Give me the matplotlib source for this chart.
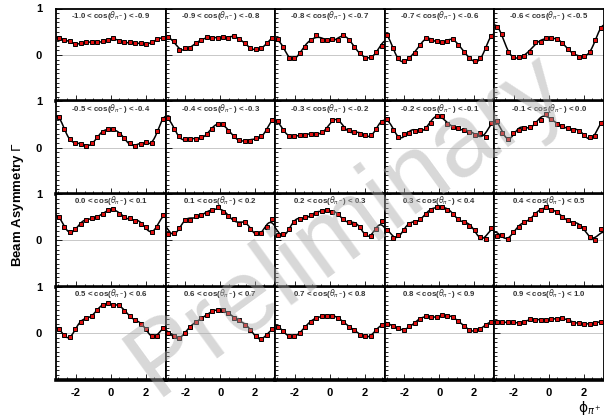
import numpy as np
import matplotlib
matplotlib.use("Agg")
import matplotlib.pyplot as plt
from matplotlib.ticker import MultipleLocator, FixedLocator

plt.rcParams['font.family'] = ['Liberation Sans', 'DejaVu Sans']

# cos(theta) bin edges, one panel per bin
cos_edges = [-1.0, -0.9, -0.8, -0.7, -0.6, -0.5, -0.4, -0.3, -0.2, -0.1,
             0.0, 0.1, 0.2, 0.3, 0.4, 0.5, 0.6, 0.7, 0.8, 0.9, 1.0]

# beam asymmetry per phi bin (20 bins over -pi..pi), one list per cos bin
bin01 = [0.36, 0.33, 0.29, 0.23, 0.25, 0.27, 0.27, 0.27, 0.30, 0.32,
         0.36, 0.30, 0.27, 0.27, 0.25, 0.25, 0.23, 0.27, 0.34, 0.37]
bin02 = [0.38, 0.29, 0.11, 0.14, 0.14, 0.25, 0.32, 0.38, 0.36, 0.37,
         0.38, 0.36, 0.41, 0.34, 0.25, 0.14, 0.12, 0.14, 0.25, 0.36]
bin03 = [0.34, 0.16, -0.06, -0.07, 0.05, 0.18, 0.31, 0.42, 0.32, 0.32,
         0.34, 0.32, 0.43, 0.32, 0.18, 0.03, -0.06, -0.04, 0.07, 0.20]
bin04 = [0.43, 0.14, -0.07, -0.14, -0.07, 0.05, 0.22, 0.36, 0.31, 0.29,
         0.27, 0.29, 0.34, 0.22, 0.07, -0.07, -0.14, -0.07, 0.14, 0.41]
bin05 = [0.61, 0.44, 0.07, -0.04, -0.04, -0.02, 0.07, 0.27, 0.27, 0.36,
         0.36, 0.34, 0.25, 0.12, 0.05, -0.04, -0.02, 0.07, 0.32, 0.57]
bin06 = [0.65, 0.40, 0.19, 0.11, 0.08, 0.04, 0.09, 0.22, 0.33, 0.40,
         0.40, 0.30, 0.20, 0.09, 0.04, 0.08, 0.13, 0.09, 0.35, 0.62]
bin07 = [0.64, 0.40, 0.24, 0.18, 0.18, 0.18, 0.22, 0.30, 0.40, 0.51,
         0.51, 0.35, 0.24, 0.17, 0.15, 0.15, 0.20, 0.25, 0.37, 0.60]
bin08 = [0.57, 0.38, 0.25, 0.25, 0.27, 0.28, 0.29, 0.30, 0.33, 0.40,
         0.60, 0.60, 0.43, 0.37, 0.33, 0.30, 0.27, 0.27, 0.40, 0.56]
bin09 = [0.61, 0.39, 0.22, 0.29, 0.32, 0.36, 0.39, 0.43, 0.54, 0.68,
         0.68, 0.50, 0.45, 0.42, 0.38, 0.34, 0.27, 0.32, 0.23, 0.54]
bin10 = [0.57, 0.32, 0.18, 0.32, 0.38, 0.43, 0.45, 0.54, 0.59, 0.72,
         0.61, 0.50, 0.47, 0.43, 0.39, 0.36, 0.27, 0.22, 0.25, 0.54]
bin11 = [0.50, 0.29, 0.18, 0.25, 0.36, 0.43, 0.49, 0.50, 0.56, 0.65,
         0.68, 0.57, 0.50, 0.49, 0.42, 0.36, 0.29, 0.18, 0.29, 0.54]
bin12 = [0.14, 0.16, 0.27, 0.43, 0.44, 0.52, 0.54, 0.59, 0.65, 0.72,
         0.61, 0.52, 0.47, 0.36, 0.39, 0.25, 0.16, 0.16, 0.29, 0.47]
bin13 = [0.11, 0.14, 0.25, 0.39, 0.47, 0.50, 0.54, 0.59, 0.63, 0.65,
         0.61, 0.56, 0.47, 0.39, 0.36, 0.29, 0.14, 0.09, 0.25, 0.41]
bin14 = [0.23, 0.06, 0.11, 0.22, 0.36, 0.39, 0.47, 0.57, 0.65, 0.72,
         0.72, 0.66, 0.57, 0.47, 0.39, 0.32, 0.22, 0.07, 0.04, 0.27]
bin15 = [0.09, 0.11, 0.04, 0.18, 0.29, 0.39, 0.47, 0.56, 0.65, 0.72,
         0.65, 0.61, 0.50, 0.45, 0.38, 0.32, 0.27, 0.07, 0.01, 0.25]
bin16 = [0.08, -0.05, -0.09, 0.09, 0.23, 0.33, 0.37, 0.50, 0.60, 0.64,
         0.61, 0.60, 0.48, 0.37, 0.29, 0.19, 0.08, -0.06, -0.06, 0.12]
bin17 = [0.00, -0.07, -0.11, 0.00, 0.14, 0.23, 0.32, 0.39, 0.47, 0.50,
         0.49, 0.44, 0.32, 0.29, 0.18, 0.07, -0.06, -0.13, -0.04, 0.09]
bin18 = [0.14, 0.04, -0.06, -0.07, 0.00, 0.14, 0.25, 0.32, 0.36, 0.37,
         0.38, 0.32, 0.25, 0.14, 0.07, -0.04, -0.06, -0.06, 0.07, 0.18]
bin19 = [0.20, 0.16, 0.10, 0.06, 0.15, 0.22, 0.30, 0.37, 0.34, 0.34,
         0.39, 0.37, 0.34, 0.26, 0.16, 0.06, 0.06, 0.08, 0.18, 0.25]
bin20 = [0.25, 0.23, 0.23, 0.23, 0.22, 0.25, 0.30, 0.29, 0.28, 0.28,
         0.30, 0.30, 0.33, 0.29, 0.22, 0.22, 0.20, 0.20, 0.22, 0.25]

panels = [bin01, bin02, bin03, bin04, bin05, bin06, bin07, bin08, bin09, bin10,
          bin11, bin12, bin13, bin14, bin15, bin16, bin17, bin18, bin19, bin20]

x_ticks = [-2, 0, 2]
y_ticks = [0, 1]

n_phi = 20
phi_edges = np.linspace(-np.pi, np.pi, n_phi + 1)
phi = 0.5 * (phi_edges[:-1] + phi_edges[1:])
phi_fine = np.linspace(-np.pi, np.pi, 400)


def fourier_fit(x, y, order, xf):
    cols = [np.ones_like(x)]
    colsf = [np.ones_like(xf)]
    for k in range(1, order + 1):
        cols += [np.cos(k * x), np.sin(k * x)]
        colsf += [np.cos(k * xf), np.sin(k * xf)]
    coef, *_ = np.linalg.lstsq(np.column_stack(cols), y, rcond=None)
    return np.column_stack(colsf) @ coef


fig = plt.figure(figsize=(6.04, 4.17), dpi=100)

W, H = 604.0, 417.0
left_px, right_px = 56.0, 603.5
top_px, bottom_px = 8.5, 379.5
pw = (right_px - left_px) / 5
ph = (bottom_px - top_px) / 4

for idx, vals in enumerate(panels):
    r, c = divmod(idx, 5)
    x0 = (left_px + c * pw) / W
    y0 = 1 - (top_px + (r + 1) * ph) / H
    ax = fig.add_axes([x0, y0, pw / W, ph / H])
    vals = np.asarray(vals)

    ax.axhline(0, color='#c8c8c8', lw=0.7, zorder=1)
    ax.plot(phi_fine, fourier_fit(phi, vals, 5, phi_fine),
            color='black', lw=1.1, zorder=2)
    ax.plot(phi, vals, 's', ms=2.8, mfc='#e01010', mec='black',
            mew=0.7, zorder=3)

    ax.set_xlim(-np.pi, np.pi)
    ax.set_ylim(-1.0, 1.0)

    for s in ['left', 'right', 'top']:
        ax.spines[s].set_linewidth(1.3)
    ax.spines['bottom'].set_linewidth(2.6)

    ax.xaxis.set_major_locator(FixedLocator(x_ticks))
    ax.xaxis.set_minor_locator(MultipleLocator(0.5))
    ax.yaxis.set_major_locator(FixedLocator(y_ticks))
    ax.yaxis.set_minor_locator(MultipleLocator(0.1))
    ax.tick_params(which='both', direction='in', top=False, right=False,
                   width=0.6)
    ax.tick_params(which='major', length=4)
    ax.tick_params(which='minor', length=2)

    if c == 0:
        ax.set_yticklabels([str(t) for t in y_ticks], fontsize=8,
                           fontweight='bold')
        ax.tick_params(axis='y', pad=10)
    else:
        ax.set_yticklabels([])
    if r == 3:
        ax.set_xticklabels([str(t) for t in x_ticks], fontsize=8,
                           fontweight='bold')
        ax.tick_params(axis='x', pad=6)
    else:
        ax.set_xticklabels([])

    lo, hi = cos_edges[idx], cos_edges[idx + 1]
    ax.text(0.5, 0.925,
            r'%.1f < cos($\theta_{\pi^-}$) < %.1f' % (lo, hi),
            transform=ax.transAxes, ha='center', va='center',
            fontsize=5.7, fontweight='bold', color='#333333')

fig.text(18 / W, 1 - 205 / H, r'Beam Asymmetry $\Gamma$', rotation=90,
         ha='center', va='center', fontsize=9.5, fontweight='bold')
fig.text(590 / W, 1 - 408 / H, r'$\mathrm{\phi}_{\pi^+}$', ha='center',
         va='center', fontsize=10)

fig.text(348 / W, 1 - 225 / H, 'Preliminary', rotation=36, ha='center',
         va='center', fontsize=74, color='#a8a8a8', alpha=0.45, zorder=10)

fig.savefig('out.png', dpi=100)
